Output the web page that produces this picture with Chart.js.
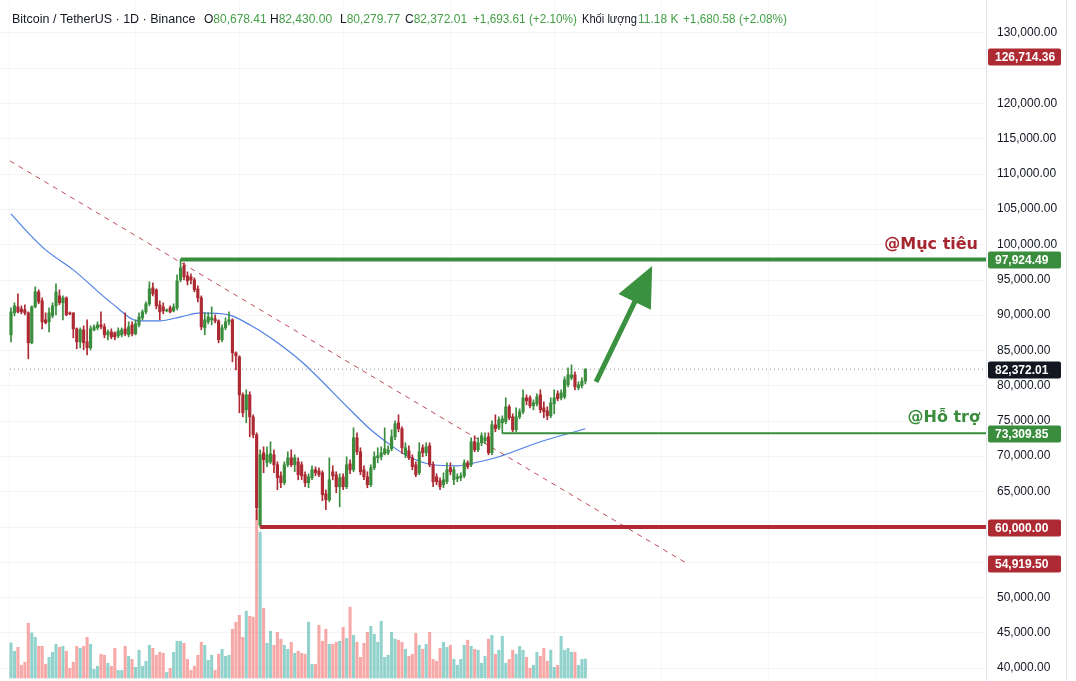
<!DOCTYPE html>
<html>
<head>
<meta charset="utf-8">
<script src="https://cdn.jsdelivr.net/npm/chart.js@4.4.1/dist/chart.umd.min.js"></script>
<style>
html, body { margin: 0; padding: 0; background: #fff; }
#wrap { position: relative; width: 1076px; height: 681px; }
</style>
</head>
<body>
<div id="wrap"><canvas id="chart"></canvas></div>
<script>
// daily candles, oldest first
const opens = [
87234,90349,91199,90916,90774,90349,86101,91199,93323,92048,
89358,89075,89924,91340,92756,91765,92473,90349,90349,88084,
86243,87942,86243,85393,87942,88225,88650,88367,87234,87659,
87517,87092,87234,88084,87234,88650,87376,88650,89641,90491,
91624,93889,93606,91482,91199,90632,91057,90632,91057,95022,
97004,95588,95447,95022,93748,92473,88225,89075,89358,89500,
89216,86526,88225,89075,89358,84685,84119,78738,76614,78738,
75623,73074,60300,70525,69109,69251,70242,68826,67268,66277,
68826,69817,68826,69251,68826,67410,66277,66985,68118,67976,
67693,64720,63870,67835,67410,65711,67127,65711,68968,68118,
72649,70667,68118,67127,65994,68401,69817,69959,70384,70525,
71092,72791,74773,73924,70242,70808,69817,68826,67693,71233,
70525,71516,68826,67127,66560,65994,66419,68401,66702,66844,
66985,67268,69109,68826,72083,70950,71941,72224,72791,70525,
74490,74065,74773,74915,77039,75623,73782,75623,76331,78313,
78313,77180,77464,78738,76897,76472,75764,77464,78880,78313,
78455,80154,81145,81570,79729,80012,80678.41];

const highs = [
91057,91765,93040,91340,91482,90491,91340,94031,93606,92473,
90349,91057,91765,94456,93606,92756,92615,90491,90349,88225,
88225,88508,89358,88508,88650,89075,90491,88792,87942,88084,
87659,88225,88225,90349,89075,89075,89358,90349,90774,91907,
94739,94597,93748,92048,91765,90916,91340,91624,95730,97924.49,
97429,96155,95872,95305,94172,92756,90349,90349,91199,90066,
89358,88650,89641,90491,89500,84827,84260,79021,79446,79163,
75906,73357,70950,71375,71375,72083,70950,69251,67835,69251,
70667,70950,70242,69817,69251,67835,67552,68684,68543,68401,
67976,65286,69817,68684,67835,67552,67552,69959,69534,74065,
73357,71233,68684,67835,68826,70667,71233,71375,74065,71516,
73782,75056,75906,74207,71941,71516,70242,69251,71941,71658,
71941,71941,69251,67552,66985,67693,69109,69109,68543,67552,
67693,69534,69392,72649,72932,72649,73357,73357,73357,75056,
75906,75623,75764,78313,77322,76048,76897,76756,79446,78738,
78596,78030,78880,79446,77747,77039,78313,79446,79304,79446,
81287,82562,82986,81995,80579,81145,82430.00];

const lows = [
86243,89924,90349,90208,90066,83836,85960,91057,91624,88084,
88792,87659,89641,90066,91482,89358,89924,90066,86809,85252,
85393,85110,84402,85110,87800,87942,88084,86809,86526,86668,
86526,86809,86951,87092,86951,87092,87234,88367,89358,90208,
91340,92756,90916,89358,90208,90491,90349,90491,90774,94739,
95022,94314,94456,93323,91907,87942,87234,88792,88650,88933,
86101,86243,87942,88650,83411,82278,76189,75623,74773,72791,
72649,61038,60000,67693,68543,68968,67693,65286,65569,65994,
68543,68543,67835,66702,66702,65711,65569,66702,67268,67127,
63728,62454,63587,66702,64861,62879,65286,65428,67552,67835,
70242,67410,66702,65569,65711,68118,69109,69534,70242,70242,
70808,72366,73499,70384,69817,69534,68118,67127,67410,69959,
70100,68543,65711,65994,65286,65569,66136,67410,65994,66419,
66560,66985,68260,68543,70667,70667,71516,71800,70242,70242,
73499,73782,73309.85,74632,75198,73499,73499,75340,76048,77322,
76897,76614,77180,76189,75481,75198,75481,76048,77888,78030,
78172,79871,80862,79446,79446,79729,80279.77];

const closes = [
90491,91340,90491,90491,90349,86101,91199,93323,91907,89075,
88933,90349,91340,93323,91765,92473,90066,90208,88084,86243,
87942,86101,85393,88084,88367,88650,88367,87234,87659,86951,
86951,87800,87942,87376,88367,87376,88792,89783,90491,91624,
93748,93040,91340,90491,90632,90774,90491,91199,94880,96721,
95447,94880,95022,93606,92473,88367,89358,89783,89641,89216,
86526,88225,89075,89358,84685,84260,78738,76189,78738,75623,
73074,62737,70242,69534,70242,70384,68826,66985,66277,68826,
69817,68826,69817,67410,67268,66277,67127,68118,67693,67410,
64578,63870,66702,67268,65711,66985,65711,68826,68118,72649,
70667,67835,67127,65994,68401,69959,70100,70525,71092,70950,
72791,74632,73924,71233,71233,69817,68543,67410,70667,70525,
71375,68826,66419,66419,65711,66702,68118,67835,68118,67127,
67268,69109,68543,72083,70950,71941,72932,72649,70525,74490,
73924,75198,75340,77039,75481,73782,75623,76331,78313,77888,
77180,77605,78455,76614,76331,75764,77605,78313,78172,79021,
80862,81570,81570,79871,80154,80678.40,82372.01];

// volume in thousands of BTC
const volumes = [
20.7,15.8,18.1,7.5,9.3,32.3,26.6,24.0,18.7,18.7,
8.1,12.2,15.2,19.9,18.1,18.7,15.8,5.7,9.3,18.7,
17.5,18.7,24.0,19.9,5.1,6.9,14.0,13.4,8.7,6.9,
17.5,4.5,4.5,18.7,12.8,11.0,6.3,16.4,6.9,9.9,
19.3,17.5,13.4,15.2,14.6,3.3,5.7,15.2,21.7,21.7,
20.5,11.0,4.5,6.9,13.4,21.1,19.3,10.4,13.4,4.5,
14.0,16.9,12.8,13.4,28.8,32.9,37.0,24.0,39.4,36.4,
35.9,99.1,86.1,41.2,20.5,27.6,19.3,27.0,22.9,19.3,
16.9,21.1,14.6,15.8,14.6,14.0,32.9,8.1,8.1,31.1,
21.7,28.8,19.9,19.9,21.1,21.7,29.9,23.4,41.8,25.2,
21.1,12.2,20.5,27.0,30.5,25.8,21.1,33.5,12.2,13.4,
27.0,22.9,22.3,21.1,16.9,12.8,14.0,26.4,19.3,16.9,
19.9,27.0,11.0,9.9,17.5,21.1,18.1,19.3,11.0,7.5,
11.0,19.3,22.3,18.7,16.9,16.4,8.7,12.8,22.9,25.2,
14.0,16.4,24.6,8.7,11.0,16.4,14.0,18.7,16.4,12.2,
5.7,7.5,15.2,12.8,17.5,9.9,16.4,6.3,7.5,24.6,
16.4,17.5,15.2,15.2,7.5,11.0,11.18];

// moving average (candle index -> price)
const maIndex  = [0, 5, 10, 18, 29, 37, 43, 49, 55, 63, 69, 75, 84, 98, 104, 110, 115, 122, 129, 134, 141, 153, 166];
const maValues = [104368, 101677, 99270, 96438, 91765, 89216, 89216, 89783, 90349, 90066, 88650, 86809, 83411,
                  76614, 73782, 71516, 69959, 68826, 68684, 69109, 69959, 72083, 73924];

// drawn levels
const trendIndex = [-0.3, 195.1];
const trendValues = [111870, 54919.50];
const targetLevel = 97924.49;   // @Mục tiêu
const targetFrom = 49;
const supportLevel = 73309.85;  // @Hỗ trợ
const supportFrom = 142;
const floorLevel = 60000;
const floorFrom = 72;
const arrowIndex = [169.1, 185.3];
const arrowValues = [80580, 97000];

const priceTicks = [130000,120000,115000,110000,105000,100000,95000,90000,85000,80000,
                    75000,70000,65000,50000,45000,40000];
const gridValues = [];
for (let v = 40000; v <= 130000; v += 5000) gridValues.push(v);
const monthTicks = [-0.3, 36, 66, 96, 127, 157, 188, 219, 250];

const badgeValues = [126714.36, 97924.49, 82372.01, 73309.85, 60000.00, 54919.50];

const UP = '#3a8d3c', DOWN = '#ad2a33';
const VOL_UP = 'rgba(38,166,154,0.5)', VOL_DOWN = 'rgba(239,83,80,0.5)';
const badgeColors = [DOWN, UP, '#131722', UP, DOWN, DOWN];

const X_MIN = -3.18, X_MAX = 281.8;
const Y_MIN = 38194, Y_MAX = 134670;

const fmt = v => v.toLocaleString('en-US', { minimumFractionDigits: 2, maximumFractionDigits: 2 });

const n = closes.length;
const last = n - 1;
const isUp = i => closes[i] >= opens[i];
const candleColors = closes.map((c, i) => isUp(i) ? UP : DOWN);
const volColors = closes.map((c, i) => isUp(i) ? VOL_UP : VOL_DOWN);

const wickData = highs.map((h, i) => ({ x: i, y: [lows[i], h] }));
const bodyData = opens.map((o, i) => ({ x: i, y: [o, closes[i]] }));
const volData = volumes.map((v, i) => ({ x: i, y: v }));
const maData = maIndex.map((i, k) => ({ x: i, y: maValues[k] }));
const trendData = trendIndex.map((i, k) => ({ x: i, y: trendValues[k] }));
const levelLine = (from, v) => [{ x: from, y: v }, { x: X_MAX, y: v }];

const overlay = {
    id: 'overlay',
    afterDatasetsDraw(chart) {
        const { ctx, chartArea, scales } = chart;
        const x = scales.x, y = scales.y;

        // green arrow
        const x1 = x.getPixelForValue(arrowIndex[0]), y1 = y.getPixelForValue(arrowValues[0]);
        const x2 = x.getPixelForValue(arrowIndex[1]), y2 = y.getPixelForValue(arrowValues[1]);
        const ang = Math.atan2(y2 - y1, x2 - x1);
        const headLen = 40, headHalf = 18;
        const bx = x2 - headLen * Math.cos(ang), by = y2 - headLen * Math.sin(ang);
        ctx.save();
        ctx.strokeStyle = '#3a913f';
        ctx.fillStyle = '#3a913f';
        ctx.lineWidth = 5;
        ctx.beginPath();
        ctx.moveTo(x1, y1);
        ctx.lineTo(bx + 2 * Math.cos(ang), by + 2 * Math.sin(ang));
        ctx.stroke();
        ctx.beginPath();
        ctx.moveTo(x2, y2);
        ctx.lineTo(bx - headHalf * Math.sin(ang), by + headHalf * Math.cos(ang));
        ctx.lineTo(bx + headHalf * Math.sin(ang), by - headHalf * Math.cos(ang));
        ctx.closePath();
        ctx.fill();

        // level captions
        ctx.font = 'bold 16px "DejaVu Sans"';
        ctx.textAlign = 'right';
        ctx.textBaseline = 'alphabetic';
        ctx.fillStyle = '#a5262f';
        ctx.fillText('@Mục tiêu', chartArea.right - 8, y.getPixelForValue(targetLevel) - 10);
        ctx.fillStyle = '#3a8d3c';
        ctx.fillText('@Hỗ trợ', chartArea.right - 6, y.getPixelForValue(supportLevel) - 11);
        ctx.restore();
    },
    afterDraw(chart) {
        const { ctx, chartArea, scales } = chart;
        const y = scales.y;
        ctx.save();

        // price scale labels
        ctx.font = '12px "Liberation Sans"';
        ctx.textBaseline = 'middle';
        ctx.textAlign = 'left';
        ctx.fillStyle = '#131722';
        priceTicks.forEach(v => {
            ctx.fillText(fmt(v), chartArea.right + 11, Math.round(y.getPixelForValue(v)) - 0.5);
        });

        // price badges on the axis
        ctx.font = 'bold 12px "Liberation Sans"';
        badgeValues.forEach((v, k) => {
            const py = Math.round(y.getPixelForValue(v)) + 1;
            ctx.fillStyle = badgeColors[k];
            ctx.beginPath();
            ctx.roundRect(chartArea.right + 2, py - 8.5, 73, 17, 2);
            ctx.fill();
            ctx.fillStyle = '#ffffff';
            ctx.fillText(fmt(v), chartArea.right + 9, py + 0.5);
        });

        // right edge
        ctx.fillStyle = '#e0e3eb';
        ctx.fillRect(1066, 0, 1, chart.height);

        // legend header
        const dark = '#131722', green = '#43a047';
        const prevClose = closes[last - 1];
        const chg = closes[last] - prevClose;
        ctx.textBaseline = 'middle';
        const hy = 20;
        const put = (parts, x0, font, maxW) => {
            ctx.font = font || '12px "Liberation Sans"';
            let px = x0;
            parts.forEach(([t, c]) => {
                ctx.fillStyle = c;
                const w = Math.min(ctx.measureText(t).width, maxW || 9999);
                ctx.fillText(t, px, hy, w);
                px += w;
            });
        };
        put([['Bitcoin / TetherUS · 1D · Binance', dark]], 12, '12.5px "Liberation Sans"');
        put([['O', dark], [fmt(opens[last]), green]], 204);
        put([['H', dark], [fmt(highs[last]), green]], 270);
        put([['L', dark], [fmt(lows[last]), green]], 340);
        put([['C', dark], [fmt(closes[last]), green]], 405);
        put([['+' + fmt(chg) + ' (+' + (chg / prevClose * 100).toFixed(2) + '%)', green]], 473, null, 104);
        put([['Khối lượng', dark]], 582, null, 55);
        put([[volumes[last].toFixed(2) + ' K', green]], 638);
        put([['+1,680.58 (+2.08%)', green]], 683, null, 104);
        ctx.restore();
    }
};

new Chart(document.getElementById('chart'), {
    type: 'bar',
    data: {
        datasets: [
            { type: 'line', data: levelLine(floorFrom, floorLevel), borderColor: '#b22833', borderWidth: 4,
              pointRadius: 0, order: 1 },
            { type: 'line', data: levelLine(targetFrom, targetLevel), borderColor: '#388e3c', borderWidth: 4,
              pointRadius: 0, order: 1 },
            { type: 'line', data: levelLine(supportFrom, supportLevel), borderColor: '#388e3c', borderWidth: 2,
              pointRadius: 0, order: 1 },
            { type: 'line', data: levelLine(-0.3, closes[last]), borderColor: '#8a8e99', borderWidth: 1,
              borderDash: [1, 3], pointRadius: 0, order: 7 },
            { data: bodyData, backgroundColor: candleColors, barThickness: 2.5, minBarLength: 1,
              grouped: false, order: 3 },
            { data: wickData, backgroundColor: candleColors, barThickness: 1, grouped: false, order: 4 },
            { type: 'line', data: trendData, borderColor: '#c04a55', borderWidth: 1, borderDash: [5, 5],
              pointRadius: 0, order: 5 },
            { type: 'line', data: maData, borderColor: '#4f7fe6', borderWidth: 1.2, pointRadius: 0,
              cubicInterpolationMode: 'monotone', order: 6 },
            { data: volData, backgroundColor: volColors, barThickness: 2.4, grouped: false,
              yAxisID: 'vol', order: 10 }
        ]
    },
    options: {
        responsive: true,
        maintainAspectRatio: false,
        animation: false,
        layout: { padding: 0 },
        plugins: { legend: { display: false }, tooltip: { enabled: false } },
        scales: {
            x: {
                type: 'linear', min: X_MIN, max: X_MAX, offset: false,
                afterBuildTicks: s => { s.ticks = monthTicks.map(v => ({ value: v })); },
                ticks: { display: false },
                grid: { color: 'rgba(42,46,57,0.04)', drawTicks: false, offset: false },
                border: { display: false },
                afterFit: s => { s.height = 0; }
            },
            y: {
                position: 'right', min: Y_MIN, max: Y_MAX,
                afterBuildTicks: s => { s.ticks = gridValues.map(v => ({ value: v })); },
                ticks: { display: false },
                grid: { color: 'rgba(42,46,57,0.05)', drawTicks: false },
                border: { color: '#e0e3eb' },
                afterFit: s => { s.width = 90; }
            },
            vol: {
                display: false, min: -1.77, max: 400
            }
        }
    },
    plugins: [overlay]
});
</script>
</body>
</html>
